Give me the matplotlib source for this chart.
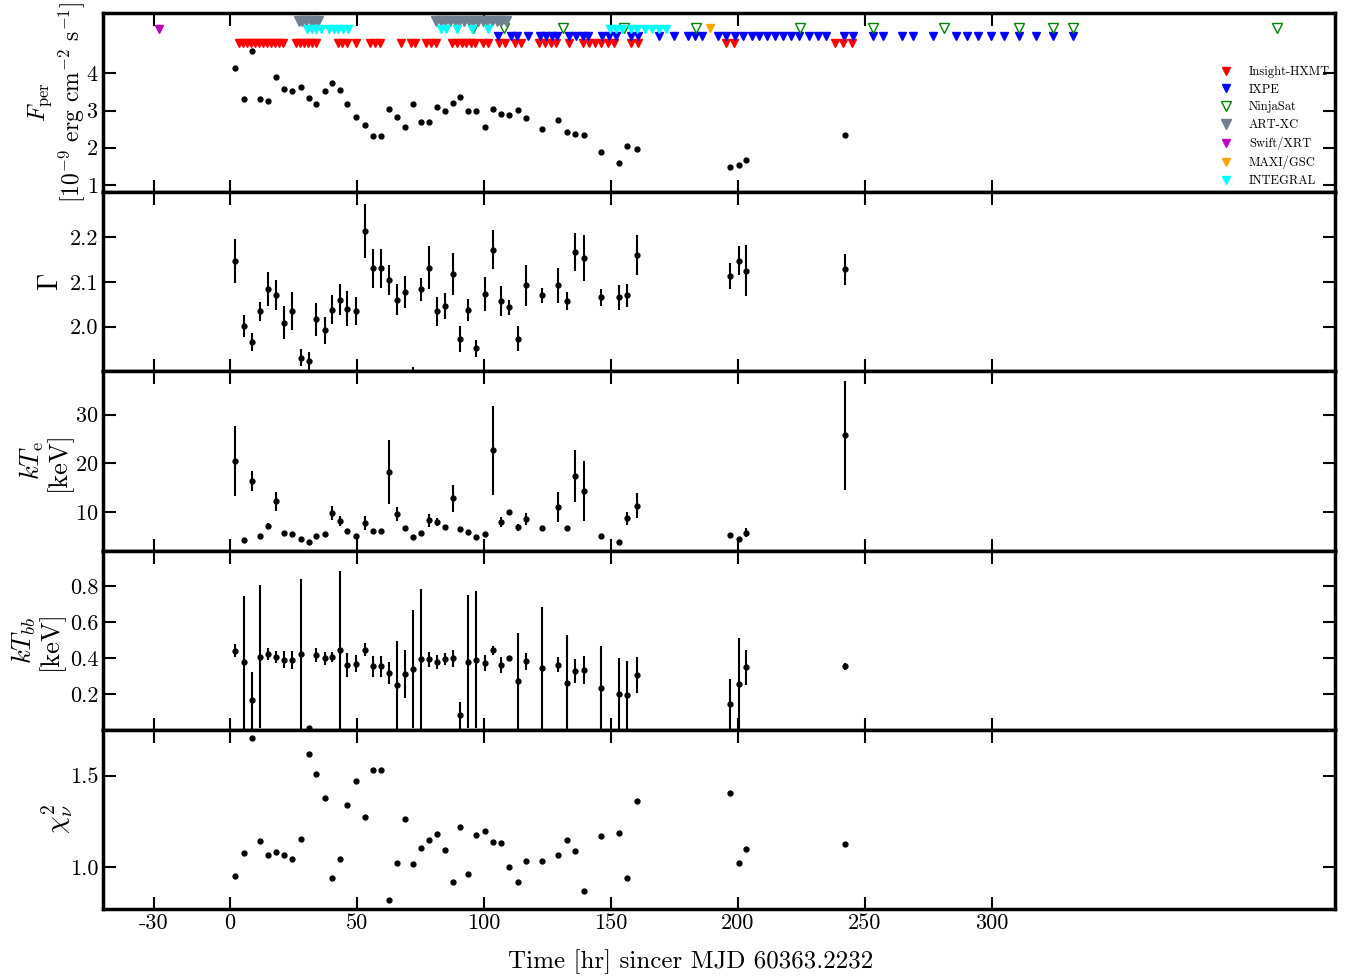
import matplotlib
matplotlib.use("Agg")
import matplotlib.pyplot as plt
import numpy as np

plt.rcParams['font.family'] = 'serif'
plt.rcParams['font.serif'] = ['cmr10', 'DejaVu Serif']
plt.rcParams['mathtext.fontset'] = 'cm'
plt.rcParams['axes.unicode_minus'] = False
plt.rcParams['axes.formatter.use_mathtext'] = True

# spectral fit results vs time [hr]
t_hr = [2.0, 5.5, 8.8, 11.9, 15.1, 18.2, 21.4, 24.6, 27.8, 30.9, 34.0, 37.2, 40.3,
        43.2, 46.0, 49.6, 53.0, 56.2, 59.3, 62.4, 65.6, 68.9, 72.0, 75.1, 78.3,
        81.4, 84.7, 87.9, 90.6, 93.5, 97.0, 100.4, 103.7, 106.8, 110.0, 113.2,
        116.4, 122.9, 129.3, 132.5, 135.8, 139.2, 146.2, 153.0, 156.2, 160.4,
        196.8, 200.5, 203.1, 242.1]

flux = [4.14, 3.32, 4.60, 3.30, 3.25, 3.90, 3.59, 3.53, 3.63, 3.33, 3.18, 3.53, 3.75,
        3.55, 3.17, 2.83, 2.60, 2.31, 2.31, 3.04, 2.83, 2.57, 3.18, 2.70, 2.68,
        3.09, 3.00, 3.20, 3.36, 2.98, 2.99, 2.56, 3.03, 2.90, 2.88, 3.01,
        2.79, 2.49, 2.74, 2.43, 2.37, 2.34, 1.89, 1.58, 2.05, 1.97,
        1.49, 1.53, 1.67, 2.35]

gamma = [2.146, 2.001, 1.966, 2.034, 2.083, 2.070, 2.009, 2.035, 1.931, 1.924, 2.016,
         1.992, 2.038, 2.060, 2.040, 2.035, 2.213, 2.130, 2.130, 2.104, 2.060, 2.078,
         1.870, 2.083, 2.131, 2.034, 2.046, 2.117, 1.973, 2.037, 1.952, 2.073, 2.172,
         2.057, 2.043, 1.973, 2.092, 2.070, 2.092, 2.057, 2.166, 2.153, 2.065, 2.065,
         2.070, 2.160, 2.114, 2.147, 2.125, 2.128]
gamma_err = [0.049, 0.024, 0.020, 0.022, 0.038, 0.033, 0.037, 0.042, 0.018, 0.020, 0.036,
             0.030, 0.032, 0.035, 0.039, 0.032, 0.060, 0.044, 0.044, 0.033, 0.035, 0.036,
             0.040, 0.025, 0.048, 0.032, 0.028, 0.047, 0.029, 0.025, 0.019, 0.038, 0.044,
             0.033, 0.016, 0.028, 0.045, 0.017, 0.039, 0.021, 0.042, 0.052, 0.018, 0.027,
             0.026, 0.045, 0.029, 0.032, 0.057, 0.035]

kte = [20.5, 4.25, 16.4, 5.1, 7.1, 12.2, 5.8, 5.6, 4.5, 3.8, 5.0, 5.6, 9.8,
       8.2, 6.1, 5.0, 7.8, 6.1, 6.1, 18.2, 9.6, 6.7, 4.9, 5.8, 8.3,
       7.9, 6.9, 12.8, 6.6, 6.0, 4.9, 5.6, 22.7, 8.0, 10.0, 6.9,
       8.6, 6.7, 11.1, 6.8, 17.4, 14.4, 5.2, 3.8, 8.7, 11.3,
       5.3, 4.5, 5.8, 25.8]
kte_err = [7.2, 0.0, 2.1, 0.0, 0.6, 2.0, 0.0, 0.0, 0.0, 0.0, 0.0, 0.0, 1.4,
           1.0, 0.0, 0.0, 1.5, 0.0, 0.0, 6.6, 1.4, 0.5, 0.0, 0.0, 1.4,
           0.8, 0.0, 2.8, 0.0, 0.0, 0.0, 0.0, 9.1, 1.0, 0.0, 0.7,
           1.3, 0.0, 3.1, 0.0, 5.4, 6.2, 0.0, 0.0, 1.4, 2.6,
           0.0, 0.0, 0.9, 11.2]

ktbb = [0.442, 0.377, 0.165, 0.408, 0.421, 0.404, 0.392, 0.390, 0.421, 0.010, 0.419,
        0.400, 0.406, 0.445, 0.360, 0.369, 0.447, 0.354, 0.354, 0.317, 0.248, 0.311,
        0.339, 0.397, 0.393, 0.378, 0.395, 0.400, 0.081, 0.381, 0.392, 0.374, 0.445,
        0.360, 0.398, 0.271, 0.382, 0.345, 0.363, 0.263, 0.328, 0.334, 0.233, 0.200,
        0.195, 0.308, 0.143, 0.256, 0.349, 0.354]
ktbb_err = [0.036, 0.370, 0.160, 0.400, 0.033, 0.033, 0.045, 0.050, 0.420, 0.0, 0.040,
            0.036, 0.028, 0.440, 0.066, 0.046, 0.036, 0.057, 0.057, 0.062, 0.245, 0.136,
            0.330, 0.390, 0.040, 0.037, 0.033, 0.047, 0.076, 0.370, 0.380, 0.046, 0.025,
            0.044, 0.010, 0.270, 0.048, 0.340, 0.043, 0.264, 0.066, 0.080, 0.233, 0.200,
            0.190, 0.100, 0.140, 0.255, 0.098, 0.021]

chi2 = [0.949, 1.076, 1.706, 1.142, 1.068, 1.080, 1.064, 1.044, 1.155, 1.616, 1.507,
        1.375, 0.938, 1.044, 1.337, 1.469, 1.271, 1.529, 1.529, 0.817, 1.020, 1.260,
        1.015, 1.106, 1.149, 1.180, 1.093, 0.918, 1.217, 0.964, 1.173, 1.196, 1.136,
        1.131, 0.998, 0.915, 1.033, 1.033, 1.068, 1.147, 1.087, 0.871, 1.167, 1.184,
        0.940, 1.358, 1.406, 1.019, 1.100, 1.125]

# observation epochs [hr] for each instrument
hxmt_t = [3.6, 5.2, 6.8, 8.3, 9.9, 11.5, 13.0, 14.6, 16.2, 17.7, 19.3, 20.9,
          25.9, 27.5, 29.1, 30.6, 32.2, 33.8, 42.4, 44.2, 46.1, 49.7,
          55.2, 57.1, 58.9, 67.3, 71.2, 73.0, 77.3, 79.2, 81.2,
          87.5, 89.3, 91.2, 93.0, 94.8, 96.4, 99.5, 101.7, 106.0, 108.3,
          112.3, 114.7, 121.8, 124.0, 126.3, 128.5, 133.5,
          138.8, 141.4, 143.8, 146.2, 148.8, 151.2, 157.8, 160.7,
          195.3, 198.6, 238.0, 241.5, 245.0]
ixpe_t = [105.5, 110.6, 113.0, 117.2, 121.9, 124.2, 126.6, 128.7, 133.5, 136.2,
          138.8, 141.1, 146.6, 149.3, 151.9, 157.8, 160.6, 168.9, 174.8, 180.3,
          183.0, 185.9, 192.2, 195.3, 198.7, 202.0, 205.3, 208.2, 211.4, 214.4,
          217.6, 220.9, 224.1, 227.8, 231.4, 234.7, 241.6, 245.2, 253.1, 257.0,
          264.7, 268.8, 276.9, 285.7, 290.0, 294.6, 299.6, 304.8, 310.6, 317.1,
          324.1, 331.9]
ninja_t = [95.5, 108.0, 131.2, 155.0, 183.5, 224.2, 253.1, 281.2, 310.6, 324.1,
           331.9, 412.0]
artxc_t = [27.0, 28.5, 30.1, 31.7, 33.2, 34.8,
           81.2, 83.0, 84.8, 86.7, 88.5, 90.3, 92.2, 94.0, 95.8, 97.7, 99.5,
           101.3, 103.2, 105.0, 106.8, 108.7]
swift_t = [-27.9]
maxi_t = [188.9]
integral_t = [30.4, 32.2, 34.0, 35.7, 39.0, 40.8, 42.6, 44.5, 46.3,
              83.1, 85.1, 89.3, 95.3, 101.6,
              149.5, 151.9, 154.2, 157.8, 160.4, 163.3, 166.0, 168.9, 171.8]

fig, axes = plt.subplots(5, 1, sharex=True, figsize=(13.5, 9.76), dpi=100,
                         gridspec_kw=dict(hspace=0))
fig.subplots_adjust(left=103/1350, right=1335/1350, top=1-13/976, bottom=1-909/976)

ms_dot = 3.5
ebkw = dict(fmt='o', color='k', ms=ms_dot, elinewidth=1.5, capsize=0, ls='none')

# panel 1: flux + observation markers
ax = axes[0]
ax.plot(t_hr, flux, 'o', color='k', ms=ms_dot)
tri = 5.5
ax.plot(hxmt_t, [4.81] * len(hxmt_t), 'v', color='red', ms=tri, ls='none', label='Insight-HXMT')
ax.plot(ixpe_t, [5.02] * len(ixpe_t), 'v', color='blue', ms=tri, ls='none', label='IXPE')
ax.plot(ninja_t, [5.22] * len(ninja_t), 'v', mfc='none', mec='green', ms=tri + 1, ls='none', label='NinjaSat')
ax.plot(artxc_t, [5.42] * len(artxc_t), 'v', color='slategray', ms=tri + 1, ls='none', label='ART-XC')
ax.plot(swift_t, [5.21] * len(swift_t), 'v', color='m', ms=tri, ls='none', label='Swift/XRT')
ax.plot(maxi_t, [5.22] * len(maxi_t), 'v', color='orange', ms=tri, ls='none', label='MAXI/GSC')
ax.plot(integral_t, [5.21] * len(integral_t), 'v', color='cyan', ms=tri, ls='none', label='INTEGRAL')
ax.set_ylim(0.8, 5.63)
ax.set_yticks([1, 2, 3, 4])
ax.set_ylabel('$F_{\\rm per}$\n[$10^{-9}$ erg cm$^{-2}$ s$^{-1}$]', fontsize=17,
              labelpad=-1, linespacing=1.1)
ax.legend(loc='lower right', frameon=False, fontsize=9, handletextpad=1.2,
          labelspacing=0.45, borderaxespad=0.1, handlelength=1.3,
          borderpad=0.3)

ax = axes[1]
ax.errorbar(t_hr, gamma, yerr=gamma_err, **ebkw)
ax.set_ylim(1.90, 2.30)
ax.set_yticks([2.0, 2.1, 2.2])
ax.set_yticklabels(['2.0', '2.1', '2.2'])
ax.set_ylabel('$\\Gamma$', fontsize=20)

ax = axes[2]
ax.errorbar(t_hr, kte, yerr=kte_err, **ebkw)
ax.set_ylim(2.1, 38.9)
ax.set_yticks([10, 20, 30])
ax.set_ylabel('$kT_{\\rm e}$\n[keV]', fontsize=19, linespacing=0.95, labelpad=2)

ax = axes[3]
ax.errorbar(t_hr, ktbb, yerr=ktbb_err, **ebkw)
ax.set_ylim(0.0, 1.0)
ax.set_yticks([0.2, 0.4, 0.6, 0.8])
ax.set_yticklabels(['0.2', '0.4', '0.6', '0.8'])
ax.set_ylabel('$kT_{bb}$\n[keV]', fontsize=19, linespacing=0.95, labelpad=4)

ax = axes[4]
ax.plot(t_hr, chi2, 'o', color='k', ms=ms_dot)
ax.set_ylim(0.77, 1.75)
ax.set_yticks([1.0, 1.5])
ax.set_yticklabels(['1.0', '1.5'])
ax.set_ylabel('$\\chi^2_\\nu$', fontsize=20, labelpad=-4)

xticks = [-30, 0, 50, 100, 150, 200, 250, 300]
for ax in axes:
    ax.set_xlim(-50, 435)
    ax.set_xticks(xticks)
    ax.tick_params(direction='in', top=True, right=True, length=9, width=1.5,
                   labelsize=16)
    for s in ax.spines.values():
        s.set_linewidth(2.5)
axes[-1].set_xticklabels([str(v) for v in xticks])
axes[-1].set_xlabel('Time [hr] sincer MJD 60363.2232', fontsize=18)
axes[-1].xaxis.set_label_coords(0.477, -0.225)

fig.savefig('out.png', dpi=100)
